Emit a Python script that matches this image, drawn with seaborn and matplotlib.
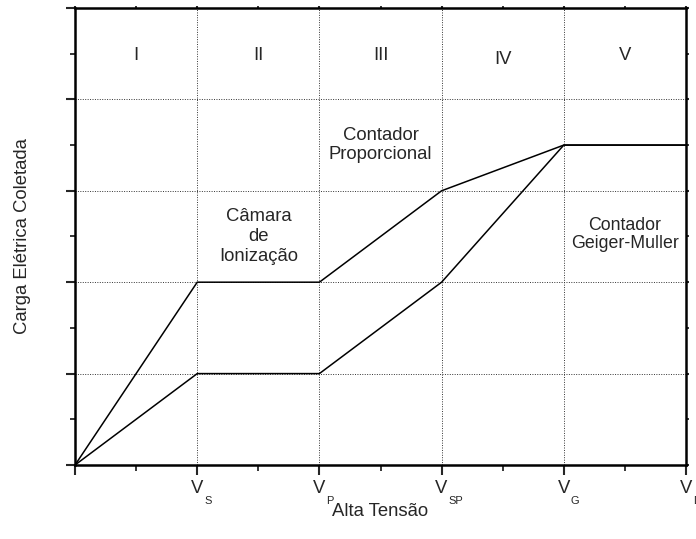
import matplotlib
matplotlib.use("Agg")
import matplotlib.pyplot as plt
from matplotlib.ticker import MultipleLocator, FixedLocator
import matplotlib.transforms as mtransforms
import seaborn as sns
import pandas as pd

# Data
voltage = [0, 1, 2, 3, 4, 5]
upper_charge = [0, 2, 2, 3, 3.5, 3.5]
lower_charge = [0, 1, 1, 2, 3.5, 3.5]
tick_positions = [1, 2, 3, 4, 5]
tick_main = ["V", "V", "V", "V", "V"]
tick_subs = ["S", "P", "SP", "G", "D"]
regions = ["I", "II", "III", "IV", "V"]

sns.set_style("ticks")
plt.rcParams['font.family'] = ['Liberation Sans', 'DejaVu Sans']

FS = 13.3

df = pd.DataFrame({
    "x": voltage * 2,
    "y": upper_charge + lower_charge,
    "s": ["upper"] * len(voltage) + ["lower"] * len(voltage),
})

fig = plt.figure(figsize=(6.96, 5.39), dpi=100)
ax = fig.add_axes([0.1078, 0.1373, 0.8778, 0.8479])

sns.lineplot(data=df, x="x", y="y", hue="s", palette={"upper": "black", "lower": "black"},
             linewidth=1.1, legend=False, ax=ax, sort=False, estimator=None)

ax.set_xlim(0, 5)
ax.set_ylim(0, 5)
ax.xaxis.set_major_locator(FixedLocator([0] + tick_positions))
ax.xaxis.set_minor_locator(MultipleLocator(0.5))
ax.yaxis.set_major_locator(MultipleLocator(1))
ax.yaxis.set_minor_locator(MultipleLocator(0.5))
ax.set_xticklabels([""] + tick_main, fontsize=FS)
ax.set_yticklabels([])

ax.tick_params(axis="x", which="major", direction="out", length=7.5, width=1.5, top=True, pad=3)
ax.tick_params(axis="x", which="minor", direction="out", length=4.5, width=1.3, top=True)
ax.tick_params(axis="y", which="major", direction="out", length=6.5, width=1.5, right=True)
ax.tick_params(axis="y", which="minor", direction="out", length=3.6, width=1.3, right=True)
for t in ax.xaxis.get_major_ticks() + ax.xaxis.get_minor_ticks():
    t.tick2line.set_markersize(1.2)
for t in ax.yaxis.get_major_ticks() + ax.yaxis.get_minor_ticks():
    t.tick2line.set_markersize(2.2)

# subscripts of the tick labels
for xp, sub in zip(tick_positions, tick_subs):
    trans = mtransforms.blended_transform_factory(ax.transData, ax.transAxes)
    off = mtransforms.ScaledTranslation(7 / 100, -39 / 100, fig.dpi_scale_trans)
    ax.text(xp, 0, sub, transform=trans + off, ha="left", va="baseline",
            fontsize=8, clip_on=False)

for s in ax.spines.values():
    s.set_visible(True)
    s.set_linewidth(1.8)
    s.set_color("black")

ax.grid(True, which="major", linestyle=(0, (1, 1.5)), color="#333333", linewidth=0.7)
ax.set_axisbelow(True)

ax.set_xlabel("Alta Tensão", fontsize=FS, labelpad=4.5)
ax.set_ylabel("Carga Elétrica Coletada", fontsize=FS, labelpad=22)

for i, r in enumerate(regions):
    ax.text(i + 0.5, 4.44 if r == "IV" else 4.48, r, ha="center", va="center", fontsize=FS)

ax.text(1.5, 2.5, "Câmara\nde\nIonização", ha="center", va="center", fontsize=FS, linespacing=1.2)
ax.text(2.5, 3.5, "Contador\nProporcional", ha="center", va="center", fontsize=FS, linespacing=1.1)
ax.text(4.5, 2.52, "Contador\nGeiger-Muller", ha="center", va="center", fontsize=FS * 0.96, linespacing=1.1)

fig.savefig("out.png", dpi=100)
